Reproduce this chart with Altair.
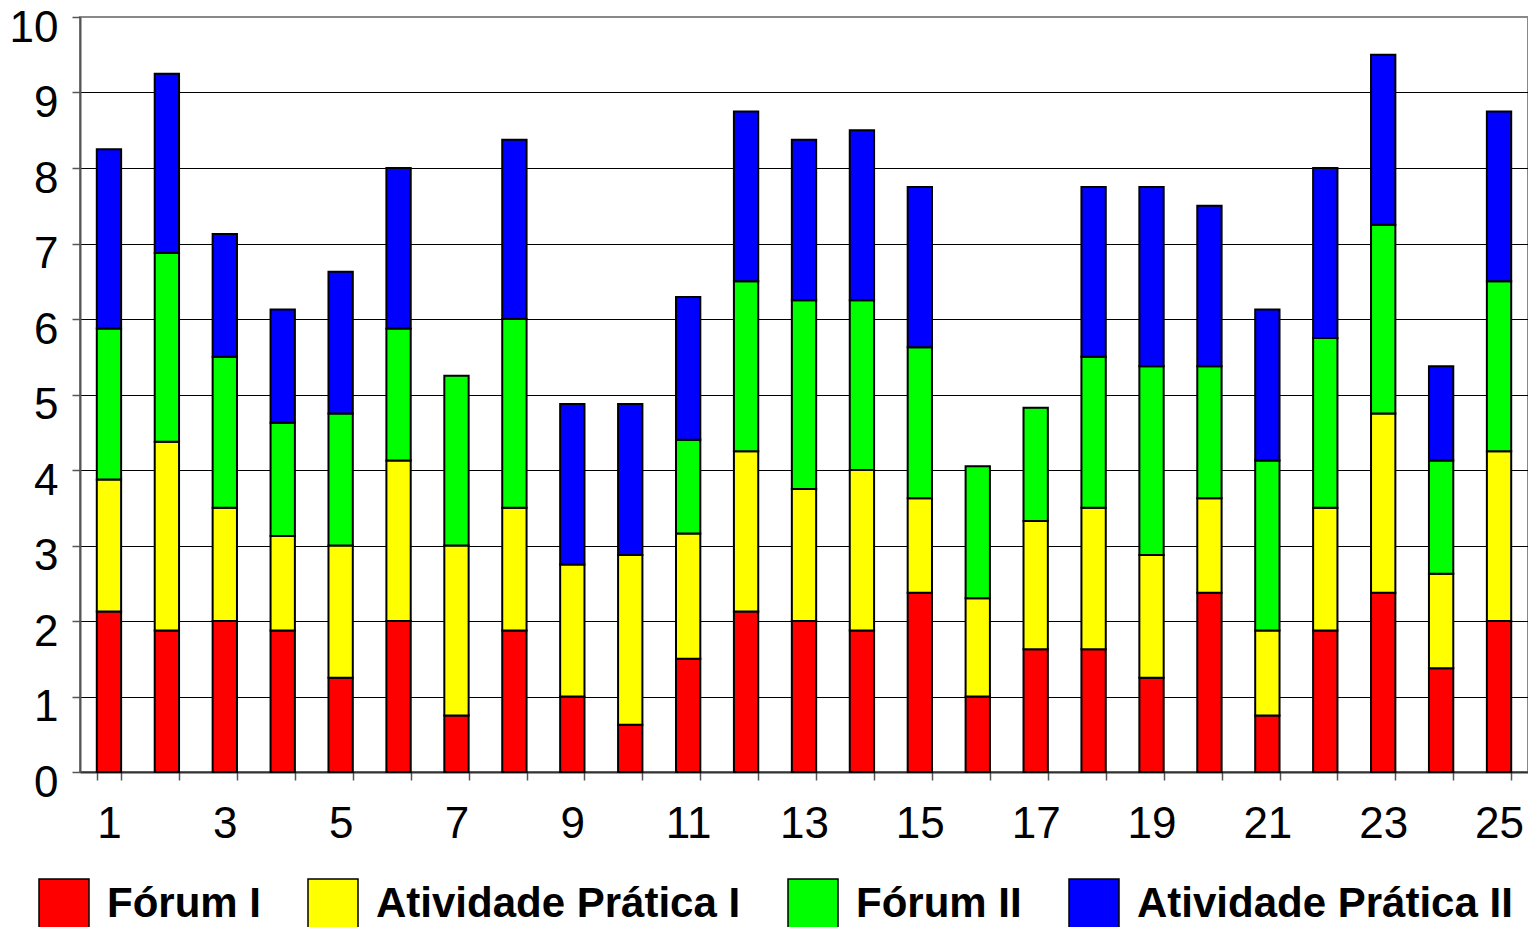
import altair as alt
import pandas as pd

alunos = list(range(1, 26))
series = ["Fórum I", "Atividade Prática I", "Fórum II", "Atividade Prática II"]
cores = ["#FF0000", "#FFFF00", "#00FF00", "#0000FF"]

forum1 = [2.125, 1.875, 2.0, 1.875, 1.25, 2.0, 0.75, 1.875, 1.0, 0.625, 1.5, 2.125, 2.0,
          1.875, 2.375, 1.0, 1.625, 1.625, 1.25, 2.375, 0.75, 1.875, 2.375, 1.375, 2.0]
ativ1 = [1.75, 2.5, 1.5, 1.25, 1.75, 2.125, 2.25, 1.625, 1.75, 2.25, 1.66, 2.125, 1.75,
         2.125, 1.25, 1.3, 1.7, 1.875, 1.625, 1.25, 1.125, 1.625, 2.375, 1.25, 2.25]
forum2 = [2.0, 2.5, 2.0, 1.5, 1.75, 1.75, 2.25, 2.5, 0.0, 0.0, 1.24, 2.25, 2.5,
          2.25, 2.0, 1.75, 1.5, 2.0, 2.5, 1.75, 2.25, 2.25, 2.5, 1.5, 2.25]
ativ2 = [2.375, 2.375, 1.625, 1.5, 1.875, 2.125, 0.0, 2.375, 2.125, 2.0, 1.89, 2.25, 2.125,
         2.25, 2.125, 0.0, 0.0, 2.25, 2.375, 2.125, 2.0, 2.25, 2.25, 1.25, 2.25]

valores = [forum1, ativ1, forum2, ativ2]
rows = []
for k, (nome, vals) in enumerate(zip(series, valores)):
    for a, v in zip(alunos, vals):
        rows.append({"aluno": a, "serie": nome, "nota": v, "ordem": k})
df = pd.DataFrame(rows)

chart = alt.Chart(df).transform_filter("datum.nota > 0").mark_bar(
    stroke="black", strokeWidth=2
).encode(
    x=alt.X(
        "aluno:O",
        scale=alt.Scale(paddingInner=0.58, paddingOuter=0.29),
        axis=alt.Axis(
            title=None,
            labelAngle=0,
            labelExpr="toNumber(datum.value) % 2 == 1 ? datum.label : ''",
            tickBand="extent",
            tickSize=8,
            tickColor="#555555",
            tickWidth=1.5,
            domainColor="#333333",
            domainWidth=2,
            labelFont="Liberation Sans",
            labelFontSize=44,
            labelColor="black",
            labelPadding=22,
            grid=False,
        ),
    ),
    y=alt.Y(
        "nota:Q",
        stack="zero",
        scale=alt.Scale(domain=[0, 10], nice=False),
        axis=alt.Axis(
            title=None,
            values=list(range(0, 11)),
            grid=True,
            gridColor={"condition": {"test": "datum.value >= 10", "value": "#888888"}, "value": "black"},
            gridWidth=1.2,
            tickSize=8,
            tickColor="#555555",
            tickWidth=1.5,
            domainColor="#555555",
            domainWidth=2,
            labelFont="Liberation Sans",
            labelFontSize=44,
            labelColor="black",
            labelPadding=14,
            labelOffset=11,
        ),
    ),
    color=alt.Color(
        "serie:N",
        scale=alt.Scale(domain=series, range=cores),
        legend=alt.Legend(
            title=None,
            orient="none",
            legendX=-42,
            legendY=861,
            direction="horizontal",
            symbolType="square",
            symbolSize=2500,
            symbolStrokeColor="black",
            symbolStrokeWidth=1.5,
            symbolOpacity=1,
            labelFont="Liberation Sans",
            labelFontSize=42,
            labelFontWeight="bold",
            labelColor="black",
            labelOffset=17,
            labelLimit=0,
            columnPadding=44,
            padding=0,
        ),
    ),
    order=alt.Order("ordem:Q"),
).properties(
    width=1448,
    height=755,
    autosize=alt.AutoSizeParams(type="none"),
    padding={"left": 72, "top": 9, "right": 0, "bottom": 155},
).configure_view(stroke="#888888", strokeWidth=2)

chart.save("out.html", embed_options={"renderer": "svg", "actions": False})
